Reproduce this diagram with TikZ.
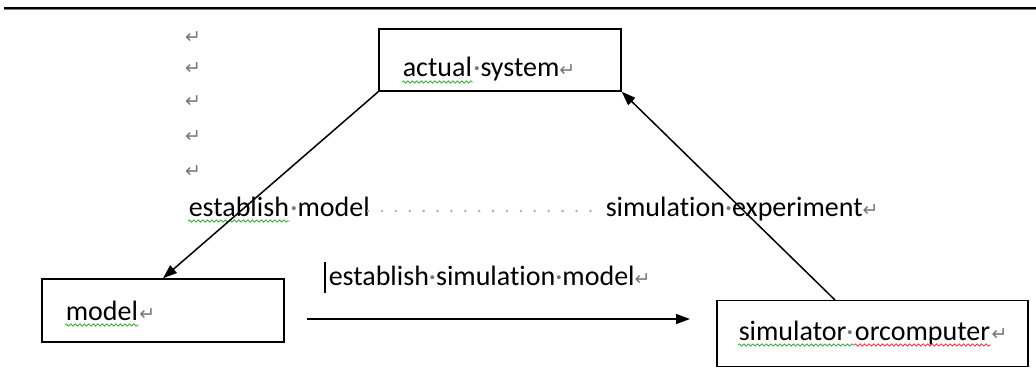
\documentclass[tikz,border=0pt]{standalone}
\usepackage{fontspec}
\setmainfont{Carlito}[Ligatures={NoCommon}]
\newfontfamily\markfont{DejaVu Sans}
\usetikzlibrary{arrows.meta,decorations.pathmorphing}

\definecolor{markgray}{RGB}{120,120,120}
\definecolor{dotgray}{RGB}{175,175,175}
\definecolor{spellgreen}{RGB}{60,170,60}
\definecolor{spellred}{RGB}{235,60,60}

\newcommand{\spmark}{{\color{markgray}\textperiodcentered}}
\newcommand{\retmark}{{\markfont\color{markgray}\fontsize{19}{19}\selectfont ↵}}

\tikzset{
  box/.style={draw, line width=1.5pt, inner sep=0pt},
  txt/.style={anchor=base west, inner sep=0pt, font=\fontsize{28}{30}\selectfont},
  retnode/.style={inner sep=0pt},
  squiggle/.style={line width=0.8pt, decorate,
    decoration={snake, amplitude=1.1pt, segment length=4.5pt}}
}

\begin{document}
\begin{tikzpicture}[x=1pt, y=-1pt, line width=1.5pt, >={Triangle[length=14pt,width=10pt]}]
  \useasboundingbox (0,0) rectangle (1036,369);
  % page rule
  \draw [line width=2pt] (4,8) -- (1036,8);
  \draw [gray, line width=1pt] (4,10) -- (1036,10);

  % empty paragraphs
  \foreach \y [count=\i] in {38,69,102,137,172}
    \node [retnode] (ret\i) at (193,\y) {\retmark};

  % boxes
  \node [box, minimum width=242pt, minimum height=62pt] (actual) at (500,60) {};
  \node [box, minimum width=242pt, minimum height=63pt] (model) at (163,310.5) {};
  \node [box, minimum width=311pt, minimum height=66pt] (sim) at (872.5,333.5) {};

  \node [txt] (actualw) at (402,77) {actual};
  \node [txt] (actualrest) at (actualw.base east) {\spmark system\retmark};
  \node [txt] (modelw) at (65,320) {model};
  \node [txt] (modelrest) at (modelw.base east) {\retmark};
  \node [txt] (simw) at (738,340) {simulator\spmark};
  \node [txt] (simw2) at (simw.base east) {orcomputer};
  \node [txt] (simrest) at (simw2.base east) {\retmark};

  % labels
  \node [txt] (estw) at (188,216) {establish};
  \node [txt] (estrest) at (estw.base east) {\spmark model};
  \foreach \k in {0,...,16}
    \fill [dotgray] (368+\k*13.9,211) circle (1.4pt);
  \node [txt] (simexp) at (605,216) {simulation\spmark experiment\retmark};
  \node [txt] (estsim) at (328,285) {establish\spmark simulation\spmark model\retmark};
  \draw [line width=2.2pt] (325,262) -- (325,293);

  % spelling marks
  \draw [spellgreen, squiggle] ([yshift=-5pt]actualw.base west) -- ([yshift=-5pt]actualw.base east);
  \draw [spellgreen, squiggle] ([yshift=-5pt]modelw.base west) -- ([yshift=-5pt]modelw.base east);
  \draw [spellgreen, squiggle] ([yshift=-5pt]simw.base west) -- ([yshift=-5pt]simw.base east);
  \draw [spellred, squiggle] ([yshift=-5pt]simw2.base west) -- ([yshift=-5pt]simw2.base east);
  \draw [spellgreen, squiggle] ([yshift=-5pt]estw.base west) -- ([yshift=-5pt]estw.base east);

  % connectors
  \coordinate (simfoot) at (835,300);
  \coordinate (h1) at (307,319); \coordinate (h2) at (690,319);
  \draw [->] (actual.south west) -- (model.north);
  \draw [->] (simfoot) -- (actual.south east);
  \draw [->] (h1) -- (h2);
\end{tikzpicture}
\end{document}
